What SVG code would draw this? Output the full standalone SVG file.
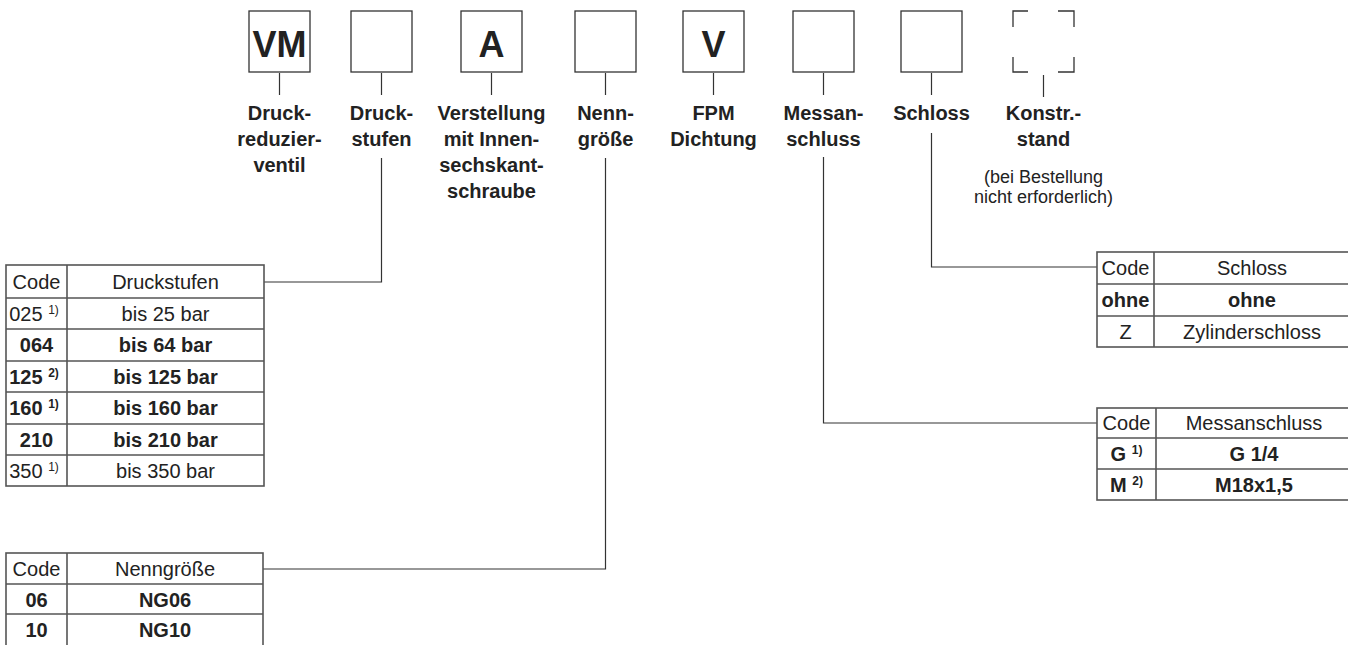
<svg xmlns="http://www.w3.org/2000/svg" width="1348" height="645" viewBox="0 0 1348 645">
<style>
text{font-family:"Liberation Sans",Arial,Helvetica,sans-serif;fill:#222}
.box{fill:none;stroke:#333;stroke-width:1.3}
.ln{fill:none;stroke:#333;stroke-width:1.2}
.tb{fill:none;stroke:#555;stroke-width:1.6}
.big{font-size:36px;font-weight:bold;text-anchor:middle}
.lab{font-size:20px;font-weight:bold;text-anchor:middle}
.note{font-size:18px;text-anchor:middle}
.t{font-size:20px;text-anchor:middle}
.b{font-weight:bold}
.sup{font-size:12px}
</style>
<g id="node-vm"><rect class="box" x="249" y="11" width="61" height="61"/><text class="big" x="279.5" y="57">VM</text>
<text class="lab" x="279.5" y="120">Druck-</text><text class="lab" x="279.5" y="146">reduzier-</text><text class="lab" x="279.5" y="172">ventil</text></g>
<g id="node-druckstufen"><rect class="box" x="351" y="11" width="61" height="61"/>
<text class="lab" x="381.5" y="120">Druck-</text><text class="lab" x="381.5" y="146">stufen</text></g>
<g id="node-a"><rect class="box" x="461" y="11" width="61" height="61"/><text class="big" x="491.5" y="57">A</text>
<text class="lab" x="491.5" y="120">Verstellung</text><text class="lab" x="491.5" y="146">mit Innen-</text><text class="lab" x="491.5" y="172">sechskant-</text><text class="lab" x="491.5" y="198">schraube</text></g>
<g id="node-nenn"><rect class="box" x="575" y="11" width="61" height="61"/>
<text class="lab" x="605.5" y="120">Nenn-</text><text class="lab" x="605.5" y="146">größe</text></g>
<g id="node-v"><rect class="box" x="683" y="11" width="61" height="61"/><text class="big" x="713.5" y="57">V</text>
<text class="lab" x="713.5" y="120">FPM</text><text class="lab" x="713.5" y="146">Dichtung</text></g>
<g id="node-mess"><rect class="box" x="793" y="11" width="61" height="61"/>
<text class="lab" x="823.5" y="120">Messan-</text><text class="lab" x="823.5" y="146">schluss</text></g>
<g id="node-schloss"><rect class="box" x="901" y="11" width="61" height="61"/>
<text class="lab" x="931.5" y="120">Schloss</text></g>
<g id="node-konstr"><path class="box" d="M1013,27V11H1028M1058,11H1074V27M1013,57V72H1028M1058,72H1074V57"/>
<text class="lab" x="1043.5" y="120">Konstr.-</text><text class="lab" x="1043.5" y="146">stand</text>
<text class="note" x="1043.5" y="183">(bei Bestellung</text><text class="note" x="1043.5" y="203">nicht erforderlich)</text></g>

<g id="connectors">
<path class="ln" d="M279.5,73V95M381.5,73V95M491.5,73V95M605.5,73V95M713.5,73V95M823.5,73V95M931.5,73V95M1043.5,75V97"/>
<path class="ln" d="M381.5,158V282H264"/>
<path class="ln" d="M605.5,158V569H263"/>
<path class="ln" d="M823.5,157V423H1097"/>
<path class="ln" d="M931.5,133V267H1097"/>
</g>

<g id="table-druckstufen">
<rect class="tb" x="6" y="265" width="258" height="221"/>
<path class="tb" d="M67,265V486M6,298H264M6,329H264M6,361H264M6,392H264M6,424H264M6,455H264"/>
<text class="t" x="36.5" y="288.5">Code</text><text class="t" x="165.5" y="288.5">Druckstufen</text>
<text class="t" x="34" y="320.5">025 <tspan class="sup" dy="-7">1)</tspan></text><text class="t" x="165.5" y="320.5">bis 25 bar</text>
<text class="t b" x="36.5" y="352">064</text><text class="t b" x="165.5" y="352">bis 64 bar</text>
<text class="t b" x="34" y="383.5">125 <tspan class="sup" dy="-7">2)</tspan></text><text class="t b" x="165.5" y="383.5">bis 125 bar</text>
<text class="t b" x="34" y="415">160 <tspan class="sup" dy="-7">1)</tspan></text><text class="t b" x="165.5" y="415">bis 160 bar</text>
<text class="t b" x="36.5" y="446.5">210</text><text class="t b" x="165.5" y="446.5">bis 210 bar</text>
<text class="t" x="34" y="477.5">350 <tspan class="sup" dy="-7">1)</tspan></text><text class="t" x="165.5" y="477.5">bis 350 bar</text>
</g>

<g id="table-nenngroesse">
<rect class="tb" x="6" y="553" width="257" height="110"/>
<path class="tb" d="M67,553V663M6,584H263M6,614H263"/>
<text class="t" x="36.5" y="576">Code</text><text class="t" x="165" y="576">Nenngröße</text>
<text class="t b" x="36.5" y="607">06</text><text class="t b" x="165" y="607">NG06</text>
<text class="t b" x="36.5" y="637">10</text><text class="t b" x="165" y="637">NG10</text>
</g>

<g id="table-schloss">
<rect class="tb" x="1097" y="252" width="260" height="95"/>
<path class="tb" d="M1154,252V347M1097,284H1357M1097,316H1357"/>
<text class="t" x="1125.5" y="275">Code</text><text class="t" x="1252" y="275">Schloss</text>
<text class="t b" x="1125.5" y="307">ohne</text><text class="t b" x="1252" y="307">ohne</text>
<text class="t" x="1125.5" y="339">Z</text><text class="t" x="1252" y="339">Zylinderschloss</text>
</g>

<g id="table-messanschluss">
<rect class="tb" x="1097" y="408" width="260" height="92"/>
<path class="tb" d="M1156,408V500M1097,438H1357M1097,469H1357"/>
<text class="t" x="1126.5" y="430">Code</text><text class="t" x="1254" y="430">Messanschluss</text>
<text class="t b" x="1126.5" y="461">G <tspan class="sup" dy="-7">1)</tspan></text><text class="t b" x="1254" y="461">G 1/4</text>
<text class="t b" x="1126.5" y="492">M <tspan class="sup" dy="-7">2)</tspan></text><text class="t b" x="1254" y="492">M18x1,5</text>
</g>
</svg>
